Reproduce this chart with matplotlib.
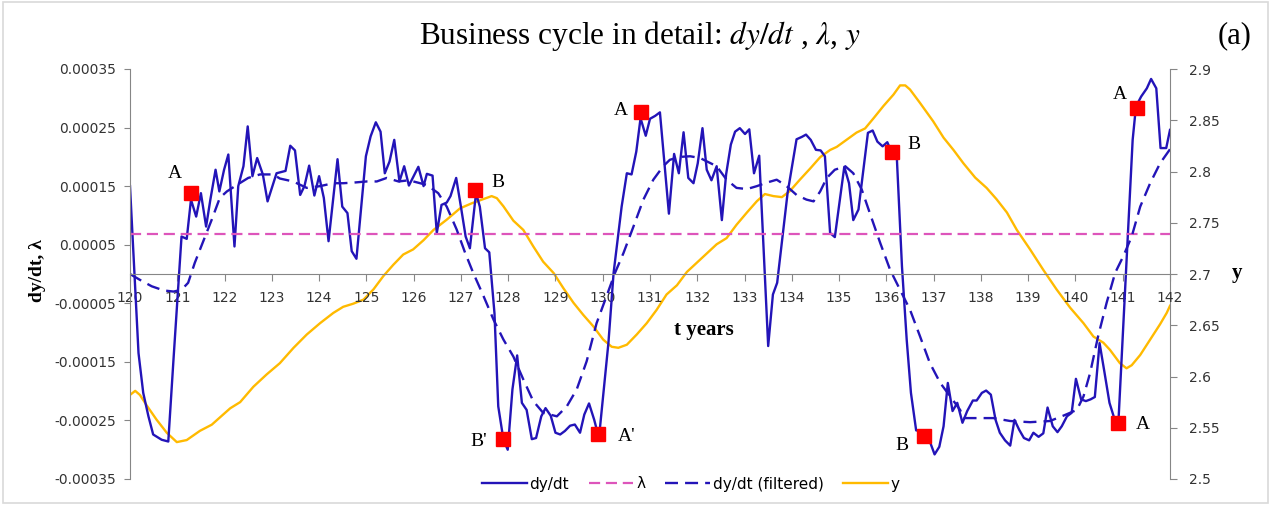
import numpy as np
import matplotlib
matplotlib.use('Agg')
import matplotlib.pyplot as plt
import matplotlib.ticker as ticker
from matplotlib.patches import Rectangle

plt.rcParams['font.family'] = ['DejaVu Sans']
plt.rcParams['mathtext.fontset'] = 'stix'

COLORS = {
    'dydt': '#2314B8',
    'lambda': '#DD55BB',
    'y': '#FFBA00',
    'marker': '#FF0000',
    'axis': '#868686',
}

# dy/dt (values in units of 1e-4)
dydt_t = [120.00, 120.18, 120.28, 120.39, 120.49, 120.67, 120.81, 120.92, 121.09, 121.20,
          121.29, 121.40, 121.50, 121.61, 121.70, 121.81, 121.89, 121.99, 122.08, 122.21,
          122.29, 122.40, 122.49, 122.59, 122.69, 122.81, 122.91, 123.10, 123.29, 123.39,
          123.49, 123.60, 123.69, 123.79, 123.90, 124.00, 124.10, 124.20, 124.39, 124.49,
          124.60, 124.69, 124.79, 124.99, 125.09, 125.20, 125.30, 125.39, 125.49, 125.59,
          125.70, 125.80, 125.90, 126.10, 126.21, 126.28, 126.40, 126.49, 126.59, 126.70,
          126.78, 126.90, 127.00, 127.10, 127.19, 127.32, 127.40, 127.51, 127.60, 127.71,
          127.79, 127.90, 127.99, 128.09, 128.19, 128.29, 128.39, 128.50, 128.59, 128.70,
          128.79, 128.90, 129.00, 129.10, 129.20, 129.31, 129.41, 129.52, 129.61, 129.71,
          129.82, 129.92, 130.12, 130.23, 130.40, 130.51, 130.61, 130.71, 130.80, 130.91,
          131.00, 131.11, 131.21, 131.31, 131.40, 131.51, 131.61, 131.71, 131.81, 131.92,
          132.01, 132.11, 132.20, 132.30, 132.41, 132.52, 132.61, 132.71, 132.80, 132.90,
          133.01, 133.10, 133.20, 133.31, 133.50, 133.60, 133.69, 133.91, 134.10, 134.21,
          134.30, 134.40, 134.51, 134.61, 134.70, 134.81, 134.91, 135.11, 135.21, 135.30,
          135.41, 135.61, 135.71, 135.81, 135.92, 136.02, 136.11, 136.22, 136.33, 136.43,
          136.52, 136.63, 136.73, 136.84, 136.92, 137.02, 137.12, 137.21, 137.30, 137.40,
          137.50, 137.61, 137.71, 137.83, 137.91, 138.02, 138.11, 138.21, 138.31, 138.40,
          138.51, 138.62, 138.71, 138.81, 138.91, 139.02, 139.11, 139.22, 139.32, 139.41,
          139.52, 139.62, 139.71, 139.82, 139.92, 140.01, 140.12, 140.22, 140.32, 140.41,
          140.51, 140.61, 140.72, 140.82, 140.91, 141.06, 141.21, 141.28, 141.39, 141.51,
          141.60, 141.71, 141.80, 141.92, 142.00]
dydt_v = [1.50, -1.35, -2.03, -2.43, -2.74, -2.83, -2.86, -1.46, 0.64, 0.60,
          1.27, 0.98, 1.38, 0.81, 1.27, 1.78, 1.41, 1.78, 2.04, 0.47,
          1.50, 1.84, 2.52, 1.67, 1.98, 1.70, 1.24, 1.72, 1.76, 2.19,
          2.11, 1.35, 1.50, 1.85, 1.34, 1.67, 1.30, 0.56, 1.96, 1.15,
          1.04, 0.39, 0.26, 2.01, 2.35, 2.59, 2.43, 1.72, 1.92, 2.29,
          1.58, 1.84, 1.51, 1.83, 1.50, 1.71, 1.68, 0.70, 1.18, 1.22,
          1.33, 1.64, 1.15, 0.64, 0.44, 1.38, 1.15, 0.44, 0.37, -0.67,
          -2.26, -2.83, -3.00, -1.97, -1.39, -2.20, -2.32, -2.82, -2.80, -2.43,
          -2.29, -2.42, -2.71, -2.74, -2.68, -2.59, -2.57, -2.71, -2.40, -2.21,
          -2.49, -2.80, -1.18, 0.02, 1.15, 1.72, 1.70, 2.09, 2.66, 2.36,
          2.65, 2.70, 2.76, 1.84, 1.03, 2.05, 1.72, 2.42, 1.64, 1.55,
          1.89, 2.49, 1.78, 1.60, 1.84, 0.92, 1.70, 2.21, 2.43, 2.49,
          2.39, 2.47, 1.72, 2.02, -1.23, -0.35, -0.15, 1.38, 2.30, 2.34,
          2.38, 2.29, 2.12, 2.11, 2.01, 0.70, 0.63, 1.83, 1.55, 0.92,
          1.10, 2.41, 2.45, 2.26, 2.18, 2.25, 2.08, 2.01, 0.13, -1.12,
          -2.03, -2.67, -2.68, -2.74, -2.86, -3.08, -2.95, -2.60, -1.86, -2.34,
          -2.20, -2.54, -2.34, -2.16, -2.16, -2.03, -1.99, -2.06, -2.49, -2.71,
          -2.84, -2.93, -2.49, -2.66, -2.80, -2.84, -2.71, -2.78, -2.72, -2.28,
          -2.60, -2.70, -2.60, -2.43, -2.37, -1.79, -2.14, -2.17, -2.14, -2.10,
          -1.18, -1.66, -2.20, -2.46, -2.51, -0.10, 2.29, 2.86, 3.03, 3.17,
          3.33, 3.17, 2.15, 2.15, 2.46]

# dy/dt filtered (units of 1e-4)
filt_t = [120.00, 120.21, 120.46, 120.71, 120.92, 121.09, 121.23, 121.37, 121.55, 121.73,
          121.90, 122.05, 122.26, 122.50, 122.75, 123.03, 123.17, 123.45, 123.74, 124.02,
          124.30, 124.51, 124.72, 125.01, 125.22, 125.43, 125.68, 125.90, 126.28, 126.52,
          126.70, 126.91, 127.09, 127.26, 127.48, 127.69, 127.90, 128.11, 128.32, 128.53,
          128.74, 129.03, 129.24, 129.45, 129.66, 129.87, 130.08, 130.26, 130.44, 130.65,
          130.86, 131.07, 131.28, 131.42, 131.64, 131.85, 132.06, 132.41, 132.62, 132.83,
          133.05, 133.26, 133.47, 133.68, 133.89, 134.10, 134.31, 134.46, 134.60, 134.74,
          134.91, 135.13, 135.30, 135.48, 135.65, 135.87, 136.08, 136.29, 136.50, 136.71,
          136.92, 137.14, 137.35, 137.56, 137.63, 137.91, 138.26, 138.62, 139.04, 139.46,
          139.74, 140.03, 140.17, 140.31, 140.48, 140.66, 140.84, 141.01, 141.19, 141.37,
          141.58, 141.79, 142.00]
filt_v = [0.00, -0.10, -0.21, -0.28, -0.30, -0.27, -0.15, 0.19, 0.56, 0.93,
          1.30, 1.41, 1.52, 1.64, 1.70, 1.70, 1.63, 1.58, 1.47, 1.50,
          1.55, 1.55, 1.56, 1.58, 1.58, 1.64, 1.58, 1.60, 1.52, 1.38,
          1.15, 0.76, 0.36, 0.02, -0.38, -0.78, -1.12, -1.41, -1.80, -2.17,
          -2.37, -2.43, -2.26, -1.97, -1.49, -0.84, -0.38, 0.02, 0.36, 0.81,
          1.27, 1.61, 1.84, 1.95, 2.00, 2.01, 1.98, 1.84, 1.61, 1.47,
          1.45, 1.50, 1.56, 1.61, 1.50, 1.35, 1.27, 1.24, 1.41, 1.64,
          1.78, 1.84, 1.72, 1.44, 1.04, 0.53, 0.07, -0.27, -0.61, -1.06,
          -1.52, -1.86, -2.09, -2.32, -2.46, -2.46, -2.46, -2.51, -2.53, -2.51,
          -2.42, -2.32, -2.09, -1.69, -1.06, -0.49, 0.02, 0.30, 0.64, 1.15,
          1.55, 1.89, 2.13]

lambda_value = 0.683  # units of 1e-4

# y (right axis)
y_t = [120.00, 120.11, 120.21, 120.35, 120.56, 120.78, 120.99, 121.20, 121.48, 121.73,
       121.90, 122.12, 122.33, 122.61, 122.89, 123.17, 123.46, 123.74, 124.02, 124.30,
       124.51, 124.72, 124.94, 125.15, 125.36, 125.57, 125.78, 125.99, 126.21, 126.42,
       126.70, 126.98, 127.23, 127.47, 127.65, 127.76, 127.90, 128.11, 128.32, 128.53,
       128.74, 128.96, 129.17, 129.38, 129.59, 129.80, 130.01, 130.19, 130.33, 130.51,
       130.72, 130.93, 131.14, 131.35, 131.57, 131.78, 131.99, 132.20, 132.41, 132.62,
       132.83, 133.05, 133.26, 133.43, 133.61, 133.79, 133.96, 134.17, 134.39, 134.60,
       134.81, 134.95, 135.16, 135.37, 135.55, 135.73, 135.94, 136.15, 136.29, 136.40,
       136.50, 136.71, 136.99, 137.21, 137.42, 137.63, 137.88, 138.12, 138.33, 138.55,
       138.76, 139.04, 139.32, 139.60, 139.89, 140.17, 140.38, 140.59, 140.73, 140.94,
       141.08, 141.19, 141.37, 141.58, 141.79, 141.93, 142.00]
y_v = [2.582, 2.586, 2.582, 2.572, 2.558, 2.545, 2.536, 2.538, 2.547, 2.553,
       2.560, 2.569, 2.575, 2.590, 2.602, 2.613, 2.628, 2.641, 2.652, 2.662,
       2.668, 2.671, 2.675, 2.685, 2.698, 2.709, 2.719, 2.724, 2.733, 2.743,
       2.753, 2.764, 2.769, 2.773, 2.776, 2.774, 2.766, 2.752, 2.743, 2.727,
       2.712, 2.701, 2.686, 2.672, 2.660, 2.649, 2.636, 2.629, 2.628, 2.631,
       2.641, 2.652, 2.665, 2.680, 2.689, 2.702, 2.711, 2.720, 2.729, 2.735,
       2.748, 2.760, 2.771, 2.778, 2.776, 2.775, 2.781, 2.792, 2.803, 2.814,
       2.821, 2.824, 2.831, 2.838, 2.842, 2.852, 2.864, 2.875, 2.884, 2.884,
       2.880, 2.867, 2.849, 2.833, 2.821, 2.808, 2.794, 2.784, 2.773, 2.760,
       2.743, 2.724, 2.704, 2.685, 2.667, 2.652, 2.639, 2.633, 2.626, 2.613,
       2.608, 2.611, 2.621, 2.636, 2.651, 2.662, 2.669]

# turning points A / B (units of 1e-4)
point_t = [121.29, 127.30, 127.90, 129.89, 130.80, 136.11, 136.80, 140.91, 141.31]
point_v = [1.38, 1.44, -2.81, -2.74, 2.76, 2.08, -2.77, -2.54, 2.84]
point_labels = ['A', 'B', "B'", "A'", 'A', 'B', 'B', 'A', 'A']
label_offsets = [(-16, 20), (23, 7), (-25, -3), (29, -2), (-20, 2),
                 (22, 8), (-22, -9), (24, -2), (-18, 13)]

UNIT = 1e-4

fig = plt.figure(figsize=(12.71, 5.05), dpi=100)
ax = fig.add_axes([130 / 1271, 26 / 505, 1040 / 1271, 410 / 505])
ax2 = ax.twinx()

ax.plot(dydt_t, np.array(dydt_v) * UNIT, color=COLORS['dydt'], lw=1.7, label='dy/dt')
ax.axhline(lambda_value * UNIT, color=COLORS['lambda'], lw=1.6,
           dashes=(5, 2.6), label='λ')
ax.plot(filt_t, np.array(filt_v) * UNIT, color=COLORS['dydt'], lw=1.7,
        dashes=(5.5, 3), label='dy/dt (filtered)')
ax2.plot(y_t, y_v, color=COLORS['y'], lw=1.7, label='y')

# orange curve sits below the blue ones
ax2.set_zorder(ax.get_zorder() - 1)
ax.patch.set_visible(False)

ax.plot(point_t, np.array(point_v) * UNIT, 's', color=COLORS['marker'],
        markersize=9.5, zorder=5)
for t, v, lab, off in zip(point_t, point_v, point_labels, label_offsets):
    ax.annotate(lab, (t, v * UNIT), xytext=off, textcoords='offset pixels',
                ha='center', va='center', fontsize=14, family='Liberation Serif')

ax.set_xlim(120, 142)
ax.set_ylim(-0.00035, 0.00035)
ax2.set_ylim(2.5, 2.9)

ax.set_yticks(np.arange(-3.5, 3.6, 1.0) * UNIT)
ax.yaxis.set_major_formatter(ticker.FuncFormatter(lambda x, pos: f'{x:.5f}'))
ax2.set_yticks(np.arange(2.5, 2.91, 0.05))
ax2.yaxis.set_major_formatter(ticker.FuncFormatter(lambda x, pos: f'{round(x, 2):g}'))
ax.set_xticks(range(120, 143))

ax.spines['bottom'].set_position(('data', 0))
for a in (ax, ax2):
    a.spines['top'].set_visible(False)
    for s in a.spines.values():
        s.set_color(COLORS['axis'])
ax.spines['right'].set_visible(False)
ax2.spines['left'].set_visible(False)
ax2.spines['bottom'].set_visible(False)

ax.tick_params(axis='x', direction='out', length=5, pad=7, colors=COLORS['axis'],
               labelcolor='#333333', labelsize=10)
ax.tick_params(axis='y', direction='out', length=4, pad=6, colors=COLORS['axis'],
               labelcolor='#333333', labelsize=10)
ax2.tick_params(axis='y', direction='out', length=5, pad=9, colors=COLORS['axis'],
                labelcolor='#333333', labelsize=10)

fig.text(640 / 1271, 1 - 36 / 505, r'Business cycle in detail: $dy/dt$ , $\lambda$, $y$',
         ha='center', va='center', fontsize=22.5, family='Liberation Serif')
fig.text(1235 / 1271, 1 - 36 / 505, '(a)', ha='center', va='center',
         fontsize=22, family='Liberation Serif')
fig.text(37 / 1271, 1 - 271 / 505, 'dy/dt, λ', rotation=90, ha='center', va='center',
         fontsize=14, fontweight='bold', family='Liberation Serif')
fig.text(1237 / 1271, 1 - 273 / 505, 'y', ha='center', va='center',
         fontsize=15, fontweight='bold', family='Liberation Serif')
fig.text(704 / 1271, 1 - 330 / 505, 't years', ha='center', va='center',
         fontsize=15, fontweight='bold', family='Liberation Serif')

h1, l1 = ax.get_legend_handles_labels()
h2, l2 = ax2.get_legend_handles_labels()
fig.legend(h1 + h2, l1 + l2, loc='center', ncol=4, frameon=False,
           bbox_to_anchor=(691 / 1271, 1 - 484 / 505), fontsize=11,
           handlelength=2.9, columnspacing=1.3, handletextpad=0.2)

fig.patches.append(Rectangle((0.002, 0.003), 0.996, 0.994, transform=fig.transFigure,
                             fill=False, edgecolor='#D9D9D9', lw=1.2))

plt.savefig('out.png', dpi=100)
plt.close()
